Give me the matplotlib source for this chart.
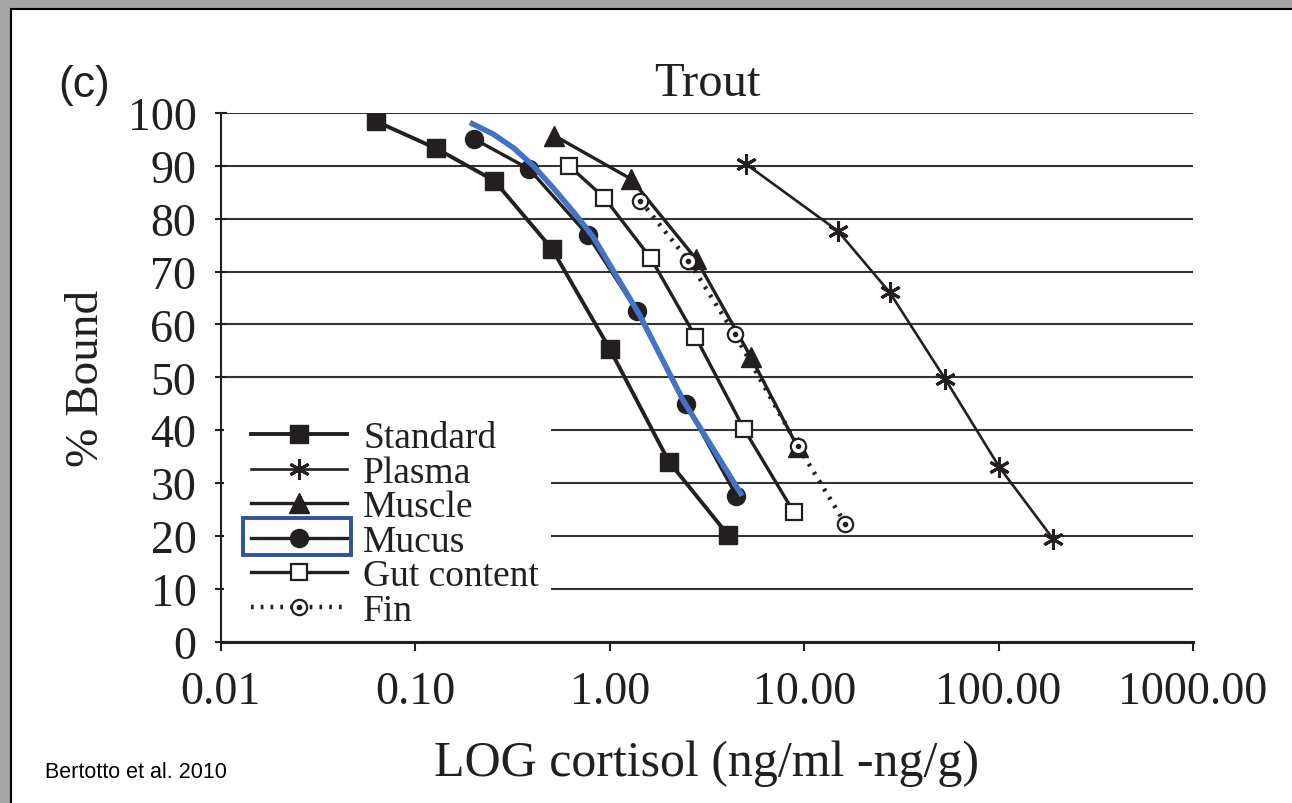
import matplotlib
matplotlib.use("Agg")
import matplotlib.pyplot as plt
from matplotlib.patches import Rectangle
from matplotlib.ticker import NullLocator

# valeurs (Bertotto et al. 2010, truite)
standard_x = [0.063, 0.128, 0.255, 0.505, 1.0, 2.02, 4.06]
standard_y = [98.4, 93.3, 87.2, 74.3, 55.4, 34.0, 20.2]

plasma_x = [5.0, 14.9, 27.5, 53.1, 101.0, 191.0]
plasma_y = [90.4, 77.7, 66.1, 49.7, 33.0, 19.4]

muscle_x = [0.52, 1.29, 2.78, 5.33, 9.26]
muscle_y = [95.7, 87.5, 72.4, 53.8, 36.8]

mucus_x = [0.201, 0.385, 0.773, 1.38, 2.47, 4.48]
mucus_y = [95.1, 89.4, 76.9, 62.5, 45.0, 27.6]

gut_x = [0.618, 0.937, 1.63, 2.76, 4.91, 8.85]
gut_y = [90.0, 84.0, 72.5, 57.7, 40.2, 24.5]

fin_x = [1.44, 2.54, 4.39, 9.26, 16.3]
fin_y = [83.4, 72.1, 58.2, 37.1, 22.3]

# trait bleu ajouté à la main sur la courbe du mucus
blue_x = [0.191, 0.252, 0.320, 0.405, 0.513, 0.651, 0.825, 1.43, 2.39, 3.85, 4.80]
blue_y = [98.2, 96.0, 93.4, 90.0, 85.8, 81.3, 76.5, 61.7, 45.6, 33.3, 27.6]

x_ticks = [0.01, 0.1, 1, 10, 100, 1000]
x_tick_labels = ["0.01", "0.10", "1.00", "10.00", "100.00", "1000.00"]
y_ticks = list(range(0, 101, 10))

INK = "#231f20"
SERIF = "Liberation Serif"

fig = plt.figure(figsize=(12.92, 8.04), dpi=100)
fig.patch.set_facecolor("#a6a6a6")
fig.add_artist(Rectangle((11 / 1292, -0.05), 1.1, 1.05 - 10 / 804,
                         transform=fig.transFigure, facecolor="white",
                         edgecolor="black", lw=1.5, zorder=-1))

ax = fig.add_axes([0.1709, 0.2006, 0.7525, 0.6576])
ax.set_xscale("log")
ax.set_xlim(0.01, 1000)
ax.set_ylim(0, 100)

# lignes horizontales
ax.set_yticks(y_ticks)
ax.yaxis.grid(True, color="#333333", lw=1.5)
ax.set_axisbelow(True)
ax.set_xticks(x_ticks)
ax.set_xticklabels(x_tick_labels)
ax.xaxis.set_minor_locator(NullLocator())

for side in ["top", "right"]:
    ax.spines[side].set_visible(False)
ax.spines["left"].set_color(INK)
ax.spines["left"].set_linewidth(1.5)
ax.spines["bottom"].set_color(INK)
ax.spines["bottom"].set_linewidth(2.2)

ax.tick_params(axis="x", direction="out", length=6.5, width=1.5, color=INK,
               labelsize=33, labelcolor=INK, pad=14)
ax.tick_params(axis="y", direction="inout", length=9, width=1.5, color=INK,
               labelsize=33, labelcolor=INK, pad=13)
for lab in ax.get_xticklabels() + ax.get_yticklabels():
    lab.set_fontfamily(SERIF)

# fond blanc derrière la légende (coupe les lignes de grille)
ax.add_patch(Rectangle((0.003, 0.033), 0.337, 0.403, transform=ax.transAxes,
                       facecolor="white", edgecolor="none", zorder=1.5))

l_std, = ax.plot(standard_x, standard_y, "-s", color=INK, lw=2.8, ms=13,
                 mfc=INK, mec=INK, label="Standard", zorder=3)
l_pla, = ax.plot(plasma_x, plasma_y, "-", marker=(6, 2, 0), color=INK, lw=1.9,
                 ms=15, mew=2.2, label="Plasma", zorder=3)
l_mus, = ax.plot(muscle_x, muscle_y, "-^", color=INK, lw=2.4, ms=14,
                 label="Muscle", zorder=3)
l_muc, = ax.plot(mucus_x, mucus_y, "-o", color=INK, lw=2.4, ms=13,
                 label="Mucus", zorder=3)
l_gut, = ax.plot(gut_x, gut_y, "-s", color=INK, lw=2.4, ms=11, mfc="white",
                 mec=INK, mew=1.6, label="Gut content", zorder=3)
l_fin, = ax.plot(fin_x, fin_y, linestyle=(0, (0.6, 1.6)), marker="o",
                 color=INK, lw=3.2, ms=11, mfc="white", mec=INK, mew=1.6,
                 label="Fin", zorder=3)
l_fin_dot, = ax.plot(fin_x, fin_y, "o", color=INK, ms=3, zorder=3.1)

ax.plot(blue_x, blue_y, "-", color="#4472c4", lw=4, solid_capstyle="butt",
        solid_joinstyle="round", zorder=4)

leg = ax.legend([l_std, l_pla, l_mus, l_muc, l_gut, (l_fin, l_fin_dot)],
                ["Standard", "Plasma", "Muscle", "Mucus", "Gut content", "Fin"],
                loc="center left", bbox_to_anchor=(0.031, 0.222),
                frameon=False, borderpad=0, borderaxespad=0,
                prop={"family": SERIF, "size": 27}, labelspacing=0.0,
                handlelength=2.56, handletextpad=0.43, numpoints=1)
for t in leg.get_texts():
    t.set_color(INK)

# encadré autour de l'entrée "Mucus"
ax.add_patch(Rectangle((0.0229, 0.164), 0.111, 0.070, transform=ax.transAxes,
                       facecolor="none", edgecolor="#2e5495", lw=2.8,
                       clip_on=False, zorder=6))

ax.set_title("Trout", fontfamily=SERIF, fontsize=35, color=INK, pad=13)
ax.set_xlabel("LOG cortisol (ng/ml -ng/g)", fontfamily=SERIF, fontsize=36,
              color=INK, labelpad=19)
ax.set_ylabel("% Bound", fontfamily=SERIF, fontsize=34, color=INK,
              labelpad=14)

fig.text(84 / 1292, 1 - 85 / 804, "(c)", fontfamily="Liberation Sans",
         fontsize=32, color=INK, ha="center", va="center")
fig.text(45 / 1292, 1 - 773 / 804, "Bertotto et al. 2010",
         fontfamily="Liberation Sans", fontsize=15.5, color="black",
         ha="left", va="center")

fig.savefig("out.png", dpi=100, facecolor=fig.get_facecolor())
